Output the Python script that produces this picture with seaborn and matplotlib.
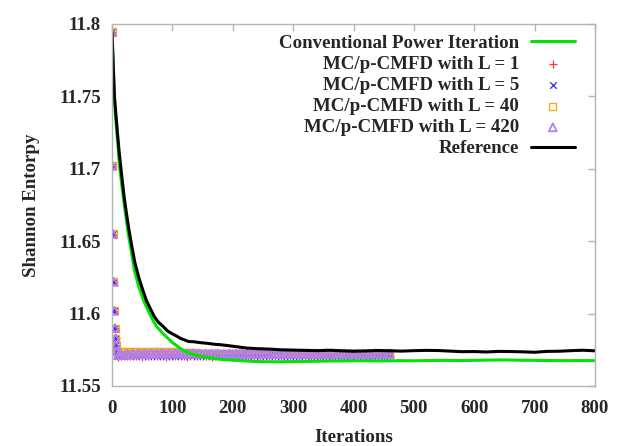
import numpy as np
import pandas as pd
import matplotlib
matplotlib.use("Agg")
import matplotlib.pyplot as plt
import seaborn as sns

# ---------------- data ----------------
conv_iter = [0, 2, 4, 6, 9, 13, 17, 20, 24, 27, 32, 37, 44, 52, 60, 67, 74, 85, 100, 113,
             126, 140, 150, 165, 180, 195, 215, 235, 250, 275, 300, 325, 350, 375, 400, 425,
             450, 475, 500, 525, 550, 575, 600, 625, 650, 675, 700, 725, 750, 775, 800]
conv_vals = [11.7945, 11.770, 11.748, 11.735, 11.720, 11.700, 11.686, 11.676, 11.664, 11.655,
             11.643, 11.630, 11.619, 11.6094, 11.602, 11.596, 11.591, 11.586, 11.580, 11.576,
             11.573, 11.5712, 11.5703, 11.5692, 11.5685, 11.5680, 11.5674, 11.5670, 11.5668,
             11.5667, 11.5669, 11.5670, 11.5672, 11.5673, 11.5674, 11.5674, 11.5673, 11.5675,
             11.5674, 11.5676, 11.5677, 11.5676, 11.5677, 11.5679, 11.5680, 11.5678, 11.5677,
             11.5676, 11.5675, 11.5676, 11.5675]

ref_iter = [0, 2, 4, 6, 9, 12, 14, 17, 20, 24, 28, 33, 38, 45, 52, 57, 64, 70, 77, 85, 92,
            100, 107, 113, 120, 127, 135, 145, 157, 170, 180, 190, 205, 223, 240, 260, 280,
            300, 320, 340, 360, 380, 400, 420, 440, 460, 480, 500, 520, 540, 560, 580, 600,
            620, 640, 660, 680, 700, 720, 740, 760, 780, 800]
ref_vals = [11.7945, 11.772, 11.750, 11.740, 11.725, 11.711, 11.703, 11.692, 11.681, 11.669,
            11.658, 11.646, 11.635, 11.624, 11.615, 11.609, 11.603, 11.598, 11.594, 11.591,
            11.588, 11.586, 11.5845, 11.583, 11.5818, 11.5807, 11.5806, 11.5800, 11.5795,
            11.5788, 11.5785, 11.5780, 11.5772, 11.5762, 11.5758, 11.5755, 11.5750, 11.5748,
            11.5746, 11.5744, 11.5747, 11.5743, 11.5740, 11.5742, 11.5745, 11.5743, 11.5741,
            11.5744, 11.5746, 11.5745, 11.5741, 11.5737, 11.5738, 11.5735, 11.5739, 11.5738,
            11.5736, 11.5733, 11.5739, 11.5740, 11.5744, 11.5747, 11.5743]

mc_early_iter = [0, 1, 2, 3, 4, 5, 6, 7, 8]
mc_early_vals = [11.7945, 11.702, 11.655, 11.622, 11.602, 11.590, 11.583, 11.578, 11.574]
mc_tail_iter = list(range(10, 461, 5))

l1_tail = [11.5703, 11.5708, 11.5705, 11.5710, 11.5704, 11.5707, 11.5709, 11.5705, 11.5703, 11.5708,
           11.5706, 11.5709, 11.5704, 11.5707, 11.5705, 11.5710, 11.5703, 11.5706, 11.5708, 11.5704,
           11.5707, 11.5705, 11.5709, 11.5703, 11.5706, 11.5708, 11.5704, 11.5707, 11.5705, 11.5709,
           11.5706, 11.5703, 11.5708, 11.5705, 11.5707, 11.5704, 11.5709, 11.5706, 11.5703, 11.5707,
           11.5705, 11.5708, 11.5704, 11.5706, 11.5709, 11.5705, 11.5707, 11.5703, 11.5708, 11.5706,
           11.5704, 11.5707, 11.5709, 11.5705, 11.5706, 11.5703, 11.5708, 11.5705, 11.5707, 11.5704,
           11.5709, 11.5706, 11.5705, 11.5708, 11.5703, 11.5707, 11.5705, 11.5709, 11.5706, 11.5704,
           11.5708, 11.5705, 11.5707, 11.5703, 11.5706, 11.5709, 11.5705, 11.5707, 11.5704, 11.5708,
           11.5706, 11.5705, 11.5709, 11.5703, 11.5707, 11.5706, 11.5708, 11.5704, 11.5707, 11.5705,
           11.5706]
l5_tail = [11.5708, 11.5710, 11.5709, 11.5711, 11.5710, 11.5712, 11.5710, 11.5711, 11.5712, 11.5711,
           11.5710, 11.5712, 11.5711, 11.5710, 11.5712, 11.5711, 11.5710, 11.5711, 11.5712, 11.5710,
           11.5711, 11.5712, 11.5710, 11.5711, 11.5712, 11.5711, 11.5710, 11.5712, 11.5711, 11.5710,
           11.5711, 11.5712, 11.5710, 11.5711, 11.5711, 11.5712, 11.5710, 11.5711, 11.5712, 11.5711,
           11.5710, 11.5711, 11.5712, 11.5710, 11.5711, 11.5712, 11.5711, 11.5710, 11.5712, 11.5711,
           11.5710, 11.5711, 11.5712, 11.5711, 11.5710, 11.5712, 11.5711, 11.5710, 11.5711, 11.5712,
           11.5710, 11.5711, 11.5712, 11.5711, 11.5710, 11.5712, 11.5711, 11.5710, 11.5711, 11.5712,
           11.5711, 11.5710, 11.5712, 11.5711, 11.5710, 11.5711, 11.5712, 11.5710, 11.5711, 11.5712,
           11.5711, 11.5710, 11.5712, 11.5711, 11.5710, 11.5711, 11.5712, 11.5711, 11.5710, 11.5712,
           11.5711]
l40_tail = [11.5732, 11.5736, 11.5735, 11.5737, 11.5736, 11.5738, 11.5736, 11.5737, 11.5738, 11.5736,
            11.5737, 11.5738, 11.5736, 11.5737, 11.5738, 11.5737, 11.5736, 11.5737, 11.5736, 11.5735,
            11.5735, 11.5734, 11.5733, 11.5732, 11.5731, 11.5729, 11.5728, 11.5727, 11.5726, 11.5727,
            11.5726, 11.5725, 11.5726, 11.5727, 11.5725, 11.5726, 11.5725, 11.5726, 11.5727, 11.5725,
            11.5726, 11.5725, 11.5726, 11.5727, 11.5726, 11.5725, 11.5726, 11.5725, 11.5727, 11.5726,
            11.5725, 11.5726, 11.5727, 11.5725, 11.5726, 11.5725, 11.5726, 11.5727, 11.5726, 11.5725,
            11.5726, 11.5725, 11.5727, 11.5726, 11.5725, 11.5726, 11.5727, 11.5725, 11.5726, 11.5725,
            11.5726, 11.5727, 11.5726, 11.5725, 11.5726, 11.5725, 11.5727, 11.5726, 11.5725, 11.5726,
            11.5727, 11.5725, 11.5726, 11.5725, 11.5726, 11.5727, 11.5726, 11.5725, 11.5726, 11.5727,
            11.5728]
l420_tail = [11.5712, 11.5718, 11.5713, 11.5722, 11.5716, 11.5723, 11.5718, 11.5725, 11.5719, 11.5724,
             11.5721, 11.5727, 11.5720, 11.5725, 11.5722, 11.5728, 11.5721, 11.5726, 11.5723, 11.5727,
             11.5722, 11.5726, 11.5720, 11.5725, 11.5723, 11.5727, 11.5721, 11.5724, 11.5722, 11.5726,
             11.5721, 11.5725, 11.5722, 11.5726, 11.5720, 11.5724, 11.5722, 11.5725, 11.5721, 11.5724,
             11.5722, 11.5726, 11.5720, 11.5723, 11.5721, 11.5725, 11.5722, 11.5724, 11.5720, 11.5724,
             11.5721, 11.5725, 11.5722, 11.5724, 11.5720, 11.5723, 11.5721, 11.5725, 11.5722, 11.5724,
             11.5721, 11.5725, 11.5723, 11.5726, 11.5722, 11.5725, 11.5721, 11.5724, 11.5722, 11.5726,
             11.5723, 11.5725, 11.5721, 11.5724, 11.5722, 11.5726, 11.5723, 11.5725, 11.5721, 11.5724,
             11.5722, 11.5725, 11.5721, 11.5724, 11.5722, 11.5726, 11.5723, 11.5725, 11.5722, 11.5724,
             11.5723]

x_ticks = [0, 100, 200, 300, 400, 500, 600, 700, 800]
y_ticks = [11.55, 11.6, 11.65, 11.7, 11.75, 11.8]
y_tick_labels = ["11.55", "11.6", "11.65", "11.7", "11.75", "11.8"]

labels = ["Conventional Power Iteration", "MC/p-CMFD with L = 1", "MC/p-CMFD with L = 5",
          "MC/p-CMFD with L = 40", "MC/p-CMFD with L = 420", "Reference"]

# ---------------- plotting ----------------
sns.set_style("white")
plt.rcParams["font.family"] = ["Liberation Serif", "DejaVu Serif"]
plt.rcParams["font.weight"] = "bold"
FS = 13.6

fig = plt.figure(figsize=(6.22, 4.46), dpi=100)
ax = fig.add_axes([112 / 622, 1 - 386 / 446, 483 / 622, 362 / 446])

grey = "#b4b4b4"

sns.lineplot(x=conv_iter, y=conv_vals, ax=ax, color="#00e600", linewidth=2.2,
             label=labels[0], sort=False, estimator=None)

mc_iter = mc_early_iter + mc_tail_iter
sns.scatterplot(x=mc_iter, y=mc_early_vals + l1_tail, ax=ax, marker="+", color="#ff3030",
                s=26, linewidth=0.9, label=labels[1])
sns.scatterplot(x=mc_iter, y=mc_early_vals + l5_tail, ax=ax, marker="x", color="#2a2aff",
                s=22, linewidth=0.9, label=labels[2])
sns.scatterplot(x=mc_iter, y=mc_early_vals + l40_tail, ax=ax, marker="s", color="#ffa500",
                facecolor="none", edgecolor="#ffa500", s=26, linewidth=0.9, label=labels[3])
sns.scatterplot(x=mc_iter, y=mc_early_vals + l420_tail, ax=ax, marker="^", color="#b07ef0",
                facecolor="none", edgecolor="#b07ef0", s=32, linewidth=1.25, label=labels[4])

sns.lineplot(x=ref_iter, y=ref_vals, ax=ax, color="black", linewidth=2.2,
             label=labels[5], sort=False, estimator=None)

ax.set_xlim(0, 800)
ax.set_ylim(11.55, 11.8)
ax.set_xticks(x_ticks)
ax.set_xticklabels([str(v) for v in x_ticks])
ax.set_yticks(y_ticks)
ax.set_yticklabels(y_tick_labels)

for s in ax.spines.values():
    s.set_color(grey)
    s.set_linewidth(1.0)
ax.tick_params(axis="both", which="both", direction="in", length=5, width=1,
               color=grey, top=True, right=True, labelsize=FS)
ax.tick_params(axis="x", pad=10)
ax.tick_params(axis="y", pad=8)
for t in ax.get_xticklabels() + ax.get_yticklabels():
    t.set_fontweight("bold")

ax.set_xlabel("Iterations", fontsize=FS, fontweight="bold")
ax.xaxis.set_label_coords(0.5, -0.118)
ax.set_ylabel("Shannon Entorpy", fontsize=FS, fontweight="bold")
ax.yaxis.set_label_coords(-0.149, 0.5)

handles, labs = ax.get_legend_handles_labels()
leg = ax.legend(handles, labs, loc="upper right", bbox_to_anchor=(0.9586, 0.9705),
                frameon=False, markerfirst=False, handlelength=2.35, handletextpad=0.6,
                labelspacing=0.205, scatterpoints=1, borderpad=0, borderaxespad=0,
                prop=dict(weight="bold", size=FS))

fig.savefig("out.png", dpi=100)
